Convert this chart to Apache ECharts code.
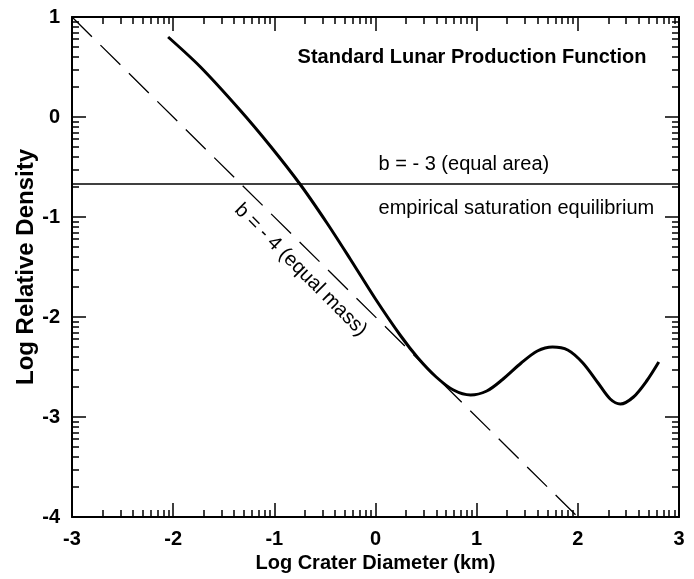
<!DOCTYPE html>
<html>
<head>
<meta charset="utf-8">
<script src="https://cdn.jsdelivr.net/npm/echarts@6/dist/echarts.min.js"></script>
<style>html,body{margin:0;padding:0;background:#fff}#c{width:694px;height:579px}</style>
</head>
<body>
<div id="c"></div>
<script>
// ---- data ----
var xTicks = [-3, -2, -1, 0, 1, 2, 3];
var yTicks = [-4, -3, -2, -1, 0, 1];
var prodX = [-2.05, -1.73, -1.34, -1.04, -0.74, -0.48, -0.25, 0.00, 0.25, 0.42, 0.60, 0.77, 0.94, 1.10, 1.25, 1.44, 1.60, 1.75, 1.90, 2.05, 2.20, 2.32, 2.42, 2.55, 2.68, 2.80];
var prodY = [0.80, 0.50, 0.07, -0.29, -0.68, -1.06, -1.42, -1.82, -2.19, -2.41, -2.60, -2.73, -2.78, -2.74, -2.63, -2.46, -2.34, -2.30, -2.33, -2.46, -2.66, -2.82, -2.87, -2.80, -2.64, -2.45];
var massX = [-3, 2];
var massY = [1, -4];
var satY = -0.67;
var labels = {
  title: 'Standard Lunar Production Function',
  area: 'b = - 3 (equal area)',
  sat: 'empirical saturation equilibrium',
  mass: 'b = - 4 (equal mass)'
};

function minorTicks(arr) {
  var out = [];
  for (var i = 0; i < arr.length - 1; i++) {
    for (var k = 2; k <= 9; k++) out.push(arr[i] + Math.log10(k));
  }
  return out;
}

var FONT = "'Liberation Sans', Arial, sans-serif";
var chart = echarts.init(document.getElementById('c'));

function xAx(pos, major, show) {
  return {
    type: 'value', position: pos, min: -3, max: 3, interval: 1,
    axisLine: { show: major, onZero: false, lineStyle: { color: '#000', width: 2 } },
    axisTick: major
      ? { show: true, inside: true, length: 14, lineStyle: { color: '#000', width: 1.5 } }
      : { show: true, inside: true, length: 7, customValues: minorTicks(xTicks), lineStyle: { color: '#000', width: 1.5 } },
    axisLabel: show ? { show: true, color: '#000', fontFamily: FONT, fontWeight: 'bold', fontSize: 20, margin: 12 } : { show: false },
    splitLine: { show: false },
    name: show ? 'Log Crater Diameter (km)' : '',
    nameLocation: 'middle', nameGap: 36, nameMoveOverlap: false,
    nameTextStyle: { color: '#000', fontFamily: FONT, fontWeight: 'bold', fontSize: 20 }
  };
}
function yAx(pos, major, show) {
  return {
    type: 'value', position: pos, min: -4, max: 1, interval: 1,
    axisLine: { show: major, onZero: false, lineStyle: { color: '#000', width: 2 } },
    axisTick: major
      ? { show: true, inside: true, length: 14, lineStyle: { color: '#000', width: 1.5 } }
      : { show: true, inside: true, length: 7, customValues: minorTicks(yTicks), lineStyle: { color: '#000', width: 1.5 } },
    axisLabel: show ? { show: true, color: '#000', fontFamily: FONT, fontWeight: 'bold', fontSize: 20, margin: 12 } : { show: false },
    splitLine: { show: false },
    name: show ? 'Log Relative Density' : '',
    nameLocation: 'middle', nameGap: 34, nameMoveOverlap: false,
    nameTextStyle: { color: '#000', fontFamily: FONT, fontWeight: 'bold', fontSize: 24 }
  };
}

var prodData = prodX.map(function (x, i) { return [x, prodY[i]]; });
var massData = massX.map(function (x, i) { return [x, massY[i]]; });

chart.setOption({
  animation: false,
  backgroundColor: '#fff',
  grid: { left: 72, right: 15, top: 17, bottom: 62 },
  xAxis: [xAx('bottom', true, true), xAx('bottom', false, false), xAx('top', true, false), xAx('top', false, false)],
  yAxis: [yAx('left', true, true), yAx('left', false, false), yAx('right', true, false), yAx('right', false, false)],
  series: [
    { type: 'line', data: massData, showSymbol: false, symbol: 'none',
      lineStyle: { color: '#000', width: 1.3, type: [28, 12] } },
    { type: 'line', data: [[-3, satY], [3, satY]], showSymbol: false, symbol: 'none',
      lineStyle: { color: '#000', width: 1.5 } },
    { type: 'line', data: prodData, smooth: 0.3, showSymbol: false, symbol: 'none',
      lineStyle: { color: '#000', width: 3 } }
  ]
});

function px(x, y) { return chart.convertToPixel({ xAxisIndex: 0, yAxisIndex: 0 }, [x, y]); }
var pT = px(-0.77, 0.60), pA = px(0.03, -0.47), pS = px(0.03, -0.91), pM = px(-0.74, -1.53);
chart.setOption({
  graphic: [
    { type: 'text', x: pT[0], y: pT[1], style: { text: labels.title, font: 'bold 20px ' + FONT, fill: '#000', textAlign: 'left', textVerticalAlign: 'middle' } },
    { type: 'text', x: pA[0], y: pA[1], style: { text: labels.area, font: '20px ' + FONT, fill: '#000', textAlign: 'left', textVerticalAlign: 'middle' } },
    { type: 'text', x: pS[0], y: pS[1], style: { text: labels.sat, font: '20px ' + FONT, fill: '#000', textAlign: 'left', textVerticalAlign: 'middle' } },
    { type: 'text', x: pM[0], y: pM[1], rotation: -Math.PI / 4, style: { text: labels.mass, font: '20px ' + FONT, fill: '#000', textAlign: 'center', textVerticalAlign: 'middle' } }
  ]
});
</script>
</body>
</html>
